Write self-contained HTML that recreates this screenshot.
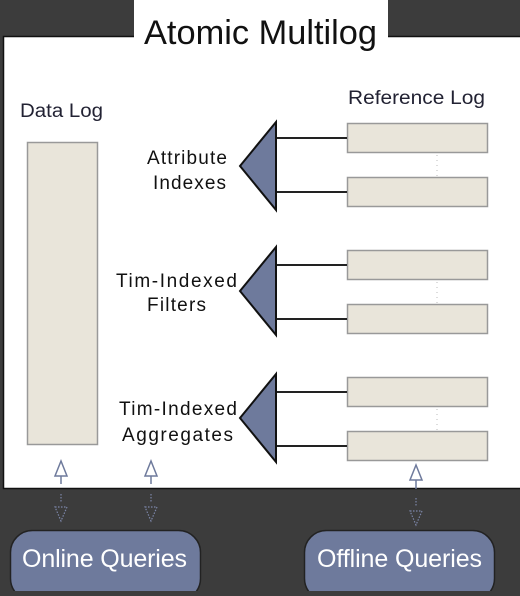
<!DOCTYPE html><html><head><style>
body{margin:0;width:520px;height:591px;background:#3c3c3c;overflow:hidden;font-family:"Liberation Sans",sans-serif}
</style></head><body>
<svg width="520" height="591" xmlns="http://www.w3.org/2000/svg" font-family="Liberation Sans, sans-serif">
<rect x="3.5" y="36.5" width="520" height="452" fill="#fff" stroke="#111" stroke-width="1.5"/>
<rect x="134" y="0" width="254" height="38" fill="#fff"/>
<text x="144" y="44" font-size="34" textLength="233" lengthAdjust="spacingAndGlyphs" fill="#111">Atomic Multilog</text>
<text x="20" y="117" font-size="19" textLength="83" lengthAdjust="spacingAndGlyphs" fill="#223">Data Log</text>
<text x="348" y="104" font-size="19" textLength="137" lengthAdjust="spacingAndGlyphs" fill="#223">Reference Log</text>
<rect x="27.5" y="142.5" width="70" height="302" fill="#e9e5da" stroke="#999" stroke-width="1.5"/>
<g fill="#e9e5da" stroke="#999" stroke-width="1.5">
<rect x="347.5" y="123.5" width="140" height="29"/><rect x="347.5" y="177.5" width="140" height="29"/>
<rect x="347.5" y="250.5" width="140" height="29"/><rect x="347.5" y="304.5" width="140" height="29"/>
<rect x="347.5" y="377.5" width="140" height="29"/><rect x="347.5" y="431.5" width="140" height="29"/>
</g>
<g stroke="#bbb" stroke-dasharray="1 4"><line x1="437" y1="155" x2="437" y2="176"/><line x1="437" y1="282" x2="437" y2="303"/><line x1="437" y1="409" x2="437" y2="430"/></g>
<g stroke="#222" stroke-width="2">
<line x1="276" y1="138" x2="347" y2="138"/><line x1="276" y1="192" x2="347" y2="192"/>
<line x1="276" y1="265" x2="347" y2="265"/><line x1="276" y1="319" x2="347" y2="319"/>
<line x1="276" y1="392" x2="347" y2="392"/><line x1="276" y1="446" x2="347" y2="446"/>
</g>
<g fill="#6e7a9c" stroke="#111" stroke-width="2">
<polygon points="276,122 276,210 240,166"/>
<polygon points="276,247 276,335 240,291"/>
<polygon points="276,374 276,462 240,418"/>
</g>
<g font-size="19" fill="#111" lengthAdjust="spacingAndGlyphs">
<text x="147" y="164" textLength="80">Attribute</text><text x="153" y="189" textLength="73">Indexes</text>
<text x="116" y="287" textLength="121">Tim-Indexed</text><text x="147" y="311" textLength="59">Filters</text>
<text x="119" y="415" textLength="118">Tim-Indexed</text><text x="122" y="441" textLength="111">Aggregates</text>
</g>
<g fill="#fff" stroke="#6e7a9c" stroke-width="1.5">
<polygon points="61,461 55,476 67,476"/><line x1="61" y1="476" x2="61" y2="484"/>
<polygon points="151,461 145,476 157,476"/><line x1="151" y1="476" x2="151" y2="484"/>
<polygon points="416,465 410,480 422,480"/><line x1="416" y1="480" x2="416" y2="489"/>
</g>
<g fill="none" stroke="#7c86a8" stroke-width="1.2" stroke-dasharray="1.5 1.5">
<line x1="61" y1="494" x2="61" y2="503"/><polygon points="55,507 67,507 61,521"/>
<line x1="151" y1="494" x2="151" y2="503"/><polygon points="145,507 157,507 151,521"/>
<line x1="416" y1="498" x2="416" y2="507"/><polygon points="410,511 422,511 416,525"/>
</g>
<rect x="10.5" y="530.5" width="190" height="70" rx="22" fill="#6e7a9c" stroke="#222" stroke-width="1.5"/>
<rect x="304.5" y="530.5" width="190" height="70" rx="22" fill="#6e7a9c" stroke="#222" stroke-width="1.5"/>
<g font-size="25" fill="#fff" lengthAdjust="spacingAndGlyphs">
<text x="22" y="567" textLength="165">Online Queries</text><text x="317" y="567" textLength="165">Offline Queries</text>
</g>
</svg>
</body></html>
